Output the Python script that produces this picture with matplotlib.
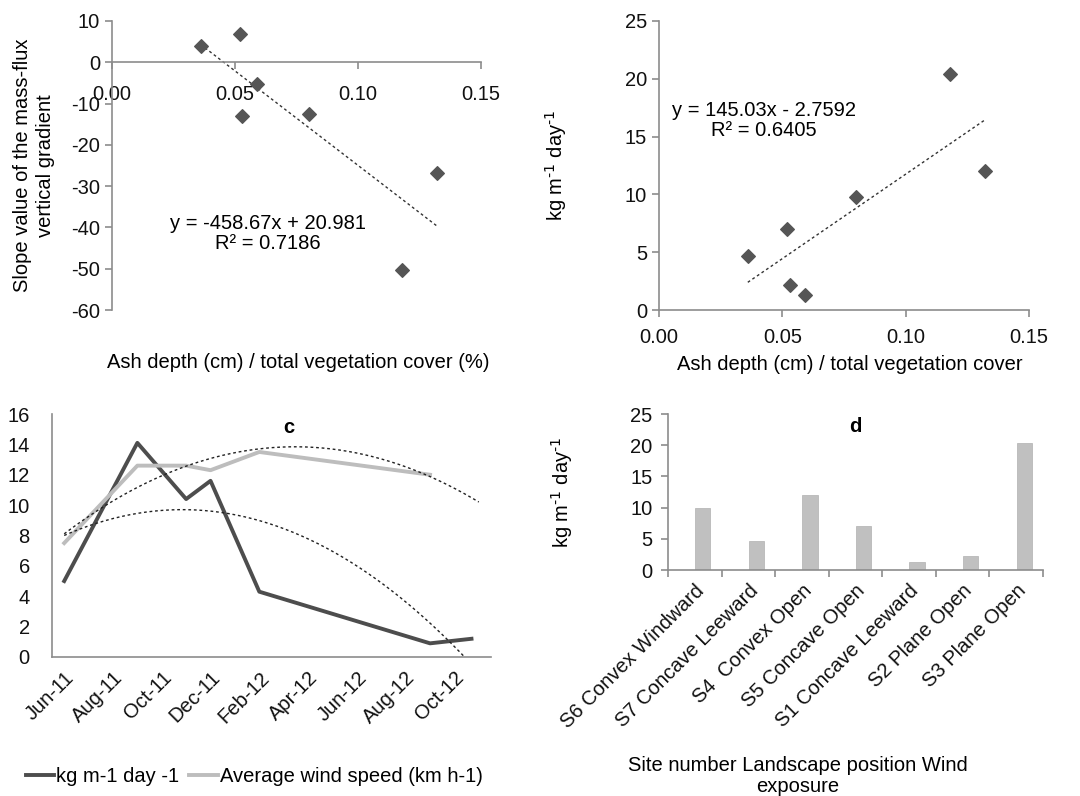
import numpy as np
import matplotlib
matplotlib.use("Agg")
import matplotlib.pyplot as plt

plt.rcParams['font.family'] = ['Liberation Sans', 'DejaVu Sans']
plt.rcParams['axes.unicode_minus'] = False
plt.rcParams['mathtext.default'] = 'regular'

# ---- data ----
ratio_x = [0.036, 0.052, 0.053, 0.059, 0.080, 0.118, 0.132]
slope_y = [4.0, 6.8, -13.0, -5.3, -12.5, -50.3, -26.7]
flux_y = [4.7, 7.0, 2.2, 1.3, 9.8, 20.4, 12.0]

month_labels = ['Jun-11', 'Aug-11', 'Oct-11', 'Dec-11', 'Feb-12', 'Apr-12', 'Jun-12', 'Aug-12', 'Oct-12']
flux_months = [0, 3, 5, 6, 8, 15, 16.7]
flux_vals = [5.0, 14.1, 10.4, 11.6, 4.3, 0.9, 1.2]
wind_months = [0, 3, 5, 6, 8, 15]
wind_vals = [7.5, 12.6, 12.6, 12.3, 13.5, 12.0]

sites = ['S6 Convex Windward', 'S7 Concave Leeward', 'S4  Convex Open', 'S5 Concave Open',
         'S1 Concave Leeward', 'S2 Plane Open', 'S3 Plane Open']
site_flux = [9.9, 4.7, 12.0, 7.0, 1.3, 2.3, 20.4]

W, H = 1080, 796
fig = plt.figure(figsize=(W/100, H/100), dpi=100)
spine_c = '#8c8c8c'
mk_c = '#555555'
fs = 14.5
unit_lbl = r'kg m$^{\text{-1}}$ day$^{\text{-1}}$'

def ax_at(l, t, r, b):
    return fig.add_axes([l/W, 1-b/H, (r-l)/W, (b-t)/H])

def style(ax):
    for s in ['top', 'right']:
        ax.spines[s].set_visible(False)
    for s in ['left', 'bottom']:
        ax.spines[s].set_color(spine_c)
        ax.spines[s].set_linewidth(1.2)
    ax.tick_params(colors=spine_c, labelcolor='#111111', labelsize=fs, length=5, width=1.2)

# ---- panel a ----
axa = ax_at(112, 21, 481, 310)
style(axa)
axa.set_xlim(0, 0.15)
axa.set_ylim(-60, 10)
axa.spines['bottom'].set_position(('data', 0))
axa.set_xticks([0, 0.05, 0.10, 0.15])
axa.set_xticklabels(['0.00', '0.05', '0.10', '0.15'])
axa.set_yticks(range(-60, 11, 10))
axa.tick_params(axis='x', pad=11)
axa.scatter(ratio_x, slope_y, marker='D', s=48, color=mk_c, zorder=3)
ca = np.polyfit(ratio_x, slope_y, 1)
xx = np.array([min(ratio_x), max(ratio_x)])
axa.plot(xx, np.polyval(ca, xx), ls=(0, (2, 2)), color='#333333', lw=1)
axa.text(0.0635, -41.5, 'y = -458.67x + 20.981\nR² = 0.7186', ha='center', va='center',
         fontsize=fs, linespacing=1.05)
axa.set_ylabel('Slope value of the mass-flux\nvertical gradient', fontsize=fs, linespacing=1.25, labelpad=12)
fig.text(298/W, 1-362/H, 'Ash depth (cm) / total vegetation cover (%)', ha='center', va='center', fontsize=fs)

# ---- panel b ----
axb = ax_at(659, 21, 1029, 310)
style(axb)
axb.set_xlim(0, 0.15)
axb.set_ylim(0, 25)
axb.set_xticks([0, 0.05, 0.10, 0.15])
axb.set_xticklabels(['0.00', '0.05', '0.10', '0.15'])
axb.set_yticks(range(0, 26, 5))
axb.tick_params(axis='x', pad=8)
axb.scatter(ratio_x, flux_y, marker='D', s=48, color=mk_c, zorder=3)
cb = np.polyfit(ratio_x, flux_y, 1)
axb.plot(xx, np.polyval(cb, xx), ls=(0, (2, 2)), color='#333333', lw=1)
axb.text(0.0425, 16.4, 'y = 145.03x - 2.7592\nR² = 0.6405', ha='center', va='center',
         fontsize=fs, linespacing=1.05)
axb.set_ylabel(unit_lbl, fontsize=fs, labelpad=40)
fig.text(850/W, 1-364/H, 'Ash depth (cm) / total vegetation cover', ha='center', va='center', fontsize=fs)

# ---- panel c ----
axc = ax_at(52, 414, 491, 657)
style(axc)
axc.set_xlim(-0.5, 17.5)
axc.set_ylim(0, 16)
axc.set_yticks(range(0, 17, 2))
axc.set_xticks(range(0, 17, 2))
axc.set_xticklabels(month_labels, rotation=45, ha='right', rotation_mode='anchor')
axc.tick_params(axis='both', length=0, pad=8)
axc.tick_params(axis='y', pad=16)
l1, = axc.plot(flux_months, flux_vals, color='#4d4d4d', lw=2.8, label='kg m-1 day -1')
l2, = axc.plot(wind_months, wind_vals, color='#bdbdbd', lw=2.8, label='Average wind speed (km h-1)')
t1 = np.linspace(0, max(flux_months), 200)
axc.plot(t1, np.polyval(np.polyfit(flux_months, flux_vals, 2), t1), ls=(0, (2, 2)), color='#222222', lw=1)
t2 = np.linspace(0, 17, 200)
axc.plot(t2, np.polyval(np.polyfit(wind_months, wind_vals, 2), t2), ls=(0, (2, 2)), color='#222222', lw=1)
axc.text(0.54, 0.985, 'c', transform=axc.transAxes, ha='center', va='top', fontsize=fs, fontweight='bold')
fig.legend(handles=[l1, l2], loc='center left', bbox_to_anchor=(26/W, 1-777/H), ncol=2, frameon=False,
           fontsize=fs, handlelength=1.4, handletextpad=0.1, columnspacing=0.5, borderpad=0,
           borderaxespad=0)

# ---- panel d ----
axd = ax_at(668, 414, 1043, 570)
style(axd)
axd.set_xlim(-0.5, 6.5)
axd.set_ylim(0, 25)
axd.set_yticks(range(0, 26, 5))
pos = np.arange(len(sites))
axd.bar(pos + 0.15, site_flux, width=0.285, color='#c0c0c0', edgecolor='#b0b0b0', lw=0.5)
axd.set_xticks(pos)
axd.set_xticklabels(sites, rotation=45, ha='right', rotation_mode='anchor')
axd.tick_params(axis='x', length=0, pad=8)
axd.set_xticks(np.arange(-0.5, 7, 1), minor=True)
axd.tick_params(axis='x', which='minor', length=5, width=1.2, colors=spine_c)
axd.tick_params(axis='y', length=5, pad=6)
axd.text(0.5, 0.98, 'd', transform=axd.transAxes, ha='center', va='top', fontsize=fs, fontweight='bold')
axd.set_ylabel(unit_lbl, fontsize=fs, labelpad=40)
fig.text(798/W, 1-776/H, 'Site number Landscape position Wind\nexposure', ha='center', va='center',
         fontsize=fs, linespacing=1.1)

fig.savefig('out.png', dpi=100, facecolor='white')
